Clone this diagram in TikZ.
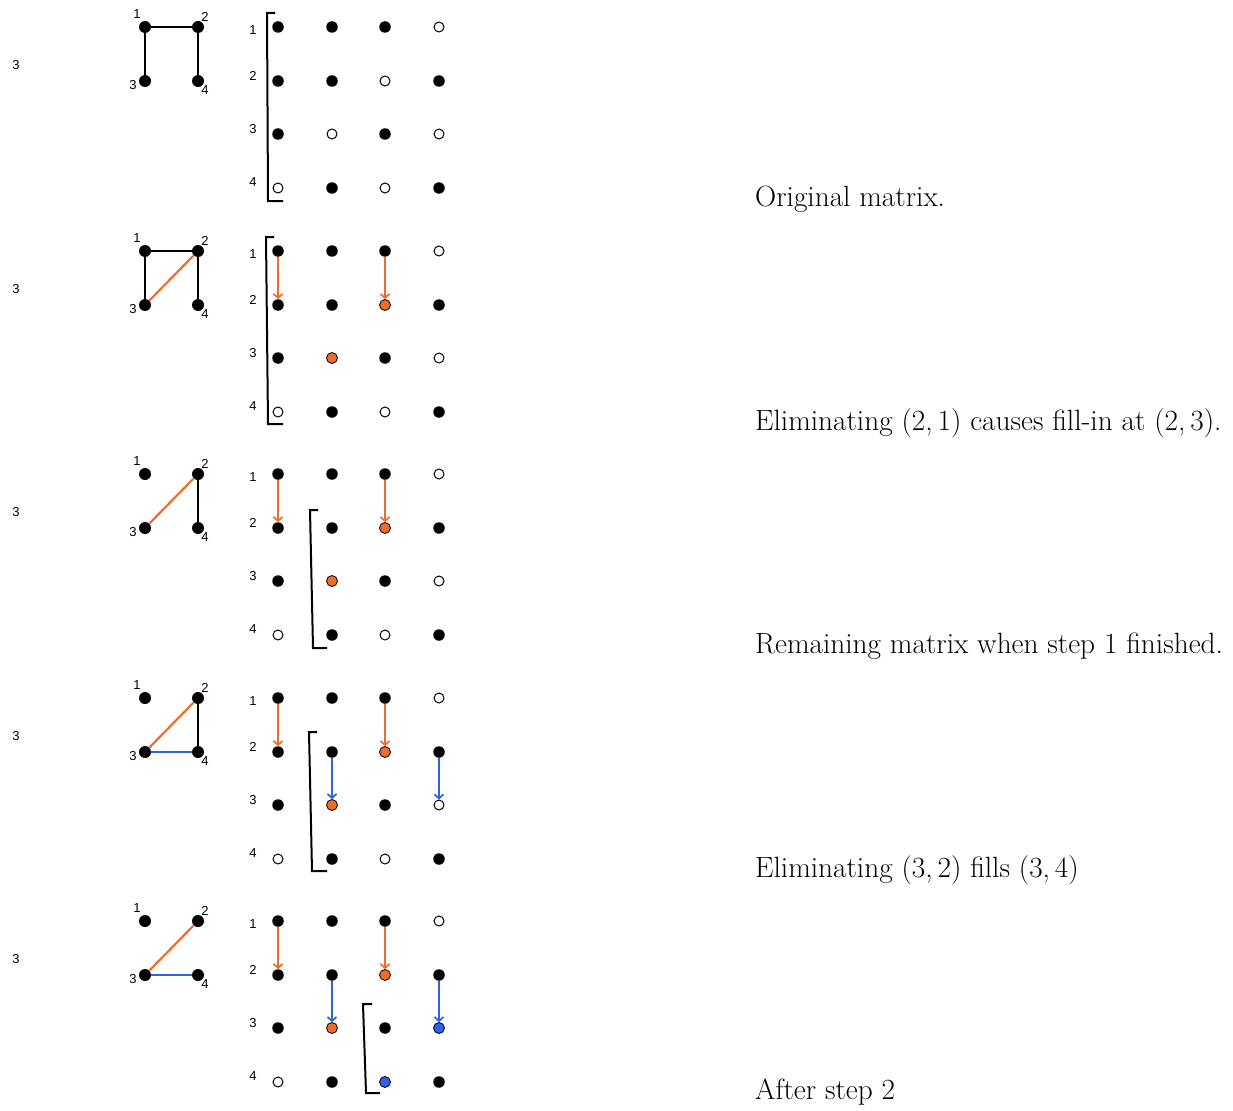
\documentclass[tikz,border=0pt]{standalone}
\usepackage{fontspec}
\newfontfamily\lblfont{Liberation Sans}
\usetikzlibrary{arrows.meta}
\definecolor{myorange}{RGB}{240,108,45}
\definecolor{myblue}{RGB}{48,96,232}
\newcommand\pr[2]{(#1,\thinspace#2)}
\begin{document}
\begin{tikzpicture}[x=1pt,y=-1pt,
  dotb/.style={circle,fill=black,inner sep=0pt,minimum size=11.5pt},
  doto/.style={circle,draw=black,fill=white,line width=1pt,inner sep=0pt,minimum size=10pt},
  dotr/.style={circle,draw=black,fill=myorange,line width=0.8pt,inner sep=0pt,minimum size=11pt},
  dotu/.style={circle,draw=black,fill=myblue,line width=0.8pt,inner sep=0pt,minimum size=11pt},
  gdot/.style={circle,fill=black,inner sep=0pt,minimum size=12pt},
  lbl/.style={font=\lblfont\fontsize{13}{15}\selectfont,inner sep=0pt},
  captext/.style={font=\fontsize{29.3}{33}\selectfont,inner sep=0pt,anchor=base west},
  gedge/.style={line width=2.7pt,black},
  oedge/.style={line width=2.2pt,myorange},
  uedge/.style={line width=2.2pt,myblue},
  oarrow/.style={line width=1.7pt,myorange,-{Straight Barb[length=4pt,width=9pt]}},
  uarrow/.style={line width=1.7pt,myblue,-{Straight Barb[length=4pt,width=9pt]}},
  brack/.style={line width=2pt,black},
]
\useasboundingbox (0,0) rectangle (1233,1110);

\foreach \p/\types in {
  1/{b,b,b,o,b,b,o,b,b,o,b,o,o,b,o,b},
  2/{b,b,b,o,b,b,r,b,b,r,b,o,o,b,o,b},
  3/{b,b,b,o,b,b,r,b,b,r,b,o,o,b,o,b},
  4/{b,b,b,o,b,b,r,b,b,r,b,o,o,b,o,b},
  5/{b,b,b,o,b,b,r,b,b,r,b,u,o,b,u,b}}{
  \pgfmathsetmacro\Y{{27,251,474,698,921}[\p-1]}
  % matrix dots
  \foreach \t [count=\i from 0] in \types {
    \pgfmathtruncatemacro\r{\i/4}
    \pgfmathtruncatemacro\c{\i-4*\r}
    \pgfmathsetmacro\X{{278,332,385,439}[\c]}
    \pgfmathsetmacro\R{{0,54,107,161}[\r]}
    \node[dot\t] (m\p-\r-\c) at (\X,{\Y+\R}) {};
  }
  % row labels
  \node[lbl] (rl\p-1) at (253,{\Y+3}) {1};
  \node[lbl] (rl\p-2) at (253,{\Y+49}) {2};
  \node[lbl] (rl\p-3) at (253,{\Y+102}) {3};
  \node[lbl] (rl\p-4) at (253,{\Y+155}) {4};
  % left label
  \node[lbl] (left\p) at (16,{\Y+38}) {3};
  % graph nodes
  \node[gdot] (g\p-1) at (145,\Y) {};
  \node[gdot] (g\p-2) at (198,\Y) {};
  \node[gdot] (g\p-3) at (145,{\Y+54}) {};
  \node[gdot] (g\p-4) at (198,{\Y+54}) {};
  \node[lbl] (gl\p-1) at (137,{\Y-13}) {1};
  \node[lbl] (gl\p-2) at (205,{\Y-10}) {2};
  \node[lbl] (gl\p-3) at (133,{\Y+58}) {3};
  \node[lbl] (gl\p-4) at (205,{\Y+63}) {4};
}

% graph edges
\draw[gedge] (g1-1) -- (g1-2);
\draw[gedge] (g1-1) -- (g1-3);
\draw[gedge] (g1-2) -- (g1-4);

\draw[gedge] (g2-1) -- (g2-2);
\draw[gedge] (g2-1) -- (g2-3);
\draw[gedge] (g2-2) -- (g2-4);
\draw[oedge] (g2-3) -- (g2-2);

\draw[gedge] (g3-2) -- (g3-4);
\draw[oedge] (g3-3) -- (g3-2);

\draw[gedge] (g4-2) -- (g4-4);
\draw[oedge] (g4-3) -- (g4-2);
\draw[uedge] (g4-3) -- (g4-4);

\draw[oedge] (g5-3) -- (g5-2);
\draw[uedge] (g5-3) -- (g5-4);

% arrows in matrices
\foreach \p in {2,3,4,5}{
  \draw[oarrow] (m\p-0-0) -- (m\p-1-0);
  \draw[oarrow] (m\p-0-2) -- (m\p-1-2);
}
\foreach \p in {4,5}{
  \draw[uarrow] (m\p-1-1) -- (m\p-2-1);
  \draw[uarrow] (m\p-1-3) -- (m\p-2-3);
}

% brackets
\draw[brack] (275,13) -- (267,13) -- (268,201) -- (283,201);
\draw[brack] (274,237) -- (266,237) -- (268,424) -- (283,424);
\draw[brack] (318,510) -- (310,510) -- (313,648) -- (327,648);
\draw[brack] (317,732) -- (309,732) -- (312,871) -- (327,871);
\draw[brack] (372,1004) -- (363,1004) -- (366,1093) -- (380,1093);

% captions
\node[captext] (c1) at (755,206) {Original matrix.};
\node[captext] (c2) at (755,430) {Eliminating \pr{2}{1} causes fill-in at \pr{2}{3}.};
\node[captext] (c3) at (755,653) {Remaining matrix when step 1 finished.};
\node[captext] (c4) at (755,877) {Eliminating \pr{3}{2} fills \pr{3}{4}};
\node[captext] (c5) at (755,1099) {After step 2};
\end{tikzpicture}
\end{document}
